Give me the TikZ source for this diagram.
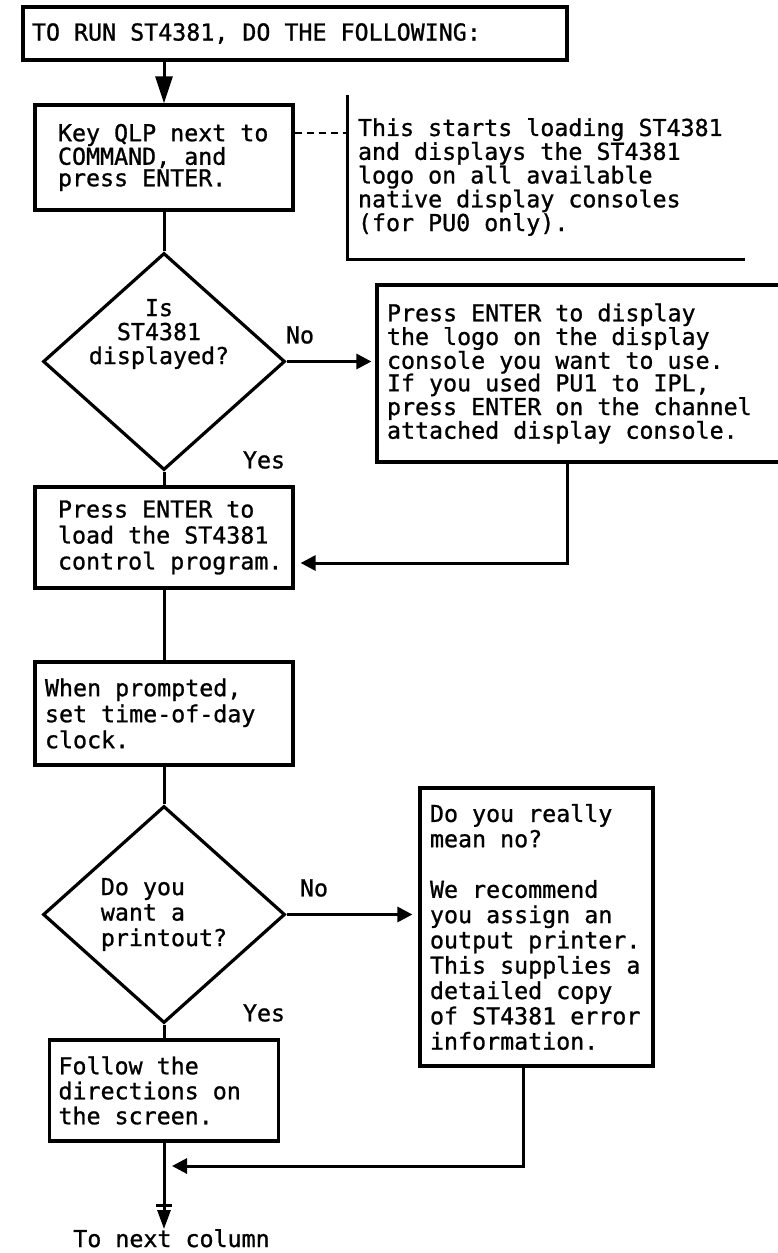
\documentclass[tikz,border=0pt]{standalone}
\usepackage{fontspec}
\setmainfont{DejaVu Sans Mono}[FakeBold=1.0]
\usetikzlibrary{arrows.meta,shapes.geometric}
\newcommand\fsz[1]{\fontsize{23.3pt}{#1}\selectfont}
\begin{document}
\begin{tikzpicture}[x=1pt,y=-1pt,
  every node/.style={font=\fsz{25pt},
    execute at begin node={\spaceskip=0pt \xspaceskip=0pt \hyphenpenalty=10000 \exhyphenpenalty=10000 }},
  box/.style={draw, line width=3.2pt, rectangle, inner ysep=0pt, align=left},
  dia/.style={draw, diamond, line width=3.2pt, minimum width=242pt, minimum height=217pt, inner sep=0pt},
  lbl/.style={inner sep=0pt},
  conn/.style={line width=3pt},
  arr/.style={conn, -{Triangle[length=15pt,width=15pt]}},
]
\useasboundingbox (0,0) rectangle (777,1253);

% nodes
\node[box, text width=526pt, inner xsep=9pt, minimum height=53pt] (title) at (295,33.5) {TO RUN ST4381, DO THE FOLLOWING:};
\node[box, text width=212pt, inner xsep=23pt, minimum height=105pt, font=\fsz{21.5pt}] (box1) at (164,157.5) {Key QLP next to\\COMMAND, and\\press ENTER.};
\node[lbl, text width=377pt, inner xsep=10pt, minimum height=164pt, align=left, font=\fsz{22.3pt}] (ann) at (546.5,177) {This starts loading ST4381\\and displays the ST4381\\logo on all available\\native display consoles\\(for PU0 only).};
\node[dia] (d1) at (164,361.5) {};
\node[lbl, align=center, font=\fsz{24pt}] (d1t) at (159,334) {Is\\ST4381\\displayed?};
\node[lbl] (no1) at (300,335) {No};
\node[lbl] (yes1) at (264,460) {Yes};
\node[box, text width=388pt, inner xsep=10pt, minimum height=177pt, font=\fsz{22.6pt}] (box2) at (581,373.5) {Press ENTER to display\\the logo on the display\\console you want to use.\\If you used PU1 to IPL,\\press ENTER on the channel\\attached display console.};
\node[box, text width=212pt, inner xsep=23pt, minimum height=101pt, font=\fsz{26pt}] (box3) at (164,537.5) {Press ENTER to\\load the ST4381\\\mbox{control program.}};
\node[box, text width=238pt, inner xsep=10pt, minimum height=103pt, font=\fsz{26pt}] (box4) at (164,713.5) {When prompted,\\set time-of-day\\clock.};
\node[dia, align=left, font=\fsz{25.5pt}] (d2) at (164,914.5) {Do you\\want a\\printout?};
\node[lbl] (no2) at (314,888) {No};
\node[lbl] (yes2) at (264,1013) {Yes};
\node[box, text width=213pt, inner xsep=10pt, minimum height=278pt, font=\fsz{25.3pt}] (box5) at (536.5,927) {Do you really\\mean no?\\[25.3pt]We recommend\\you assign an\\output printer.\\This supplies a\\detailed copy\\of ST4381 error\\information.};
\node[box, text width=211pt, inner xsep=9pt, minimum height=101pt, font=\fsz{25pt}] (box6) at (164,1090.5) {Follow the\\directions on\\the screen.};
\node[lbl, anchor=base] (next) at (171.5,1247) {To next column};

\coordinate (j1) at (567,563);
\coordinate (j2) at (523,1166);
\coordinate (end) at (164,1229);

% annotation bracket and dashed leader
\draw[conn] (ann.north west) -- (ann.south west) -- (ann.south east);
\draw[line width=2.2pt, dash pattern=on 7pt off 5pt] ([yshift=24.5pt]box1.east) -- ([yshift=24.5pt]box1.east -| ann.west);

% connectors
\draw[conn, -{Triangle[length=27pt,width=17pt]}] (box1.north |- title.south) -- (box1.north);
\draw[conn] (box1.south) -- (d1.north);
\draw[arr, shorten >=4pt] (d1.east) -- (d1.east -| box2.west);
\draw[conn] (d1.south) -- (box3.north);
\draw[arr] (j1 |- box2.south) -- (j1) -- ([xshift=6pt]j1 -| box3.east);
\draw[conn] (box3.south) -- (box4.north);
\draw[conn] (box4.south) -- (d2.north);
\draw[arr, shorten >=6pt] (d2.east) -- (d2.east -| box5.west);
\draw[conn] (d2.south) -- (box6.north);
\draw[conn, -{Bar[width=16pt,line width=3pt,sep=3pt] Triangle[length=19pt,width=13pt]}] (box6.south) -- (end);
\draw[arr, shorten >=8pt] (j2 |- box5.south) -- (j2) -- (j2 -| box6.south);
\end{tikzpicture}
\end{document}
